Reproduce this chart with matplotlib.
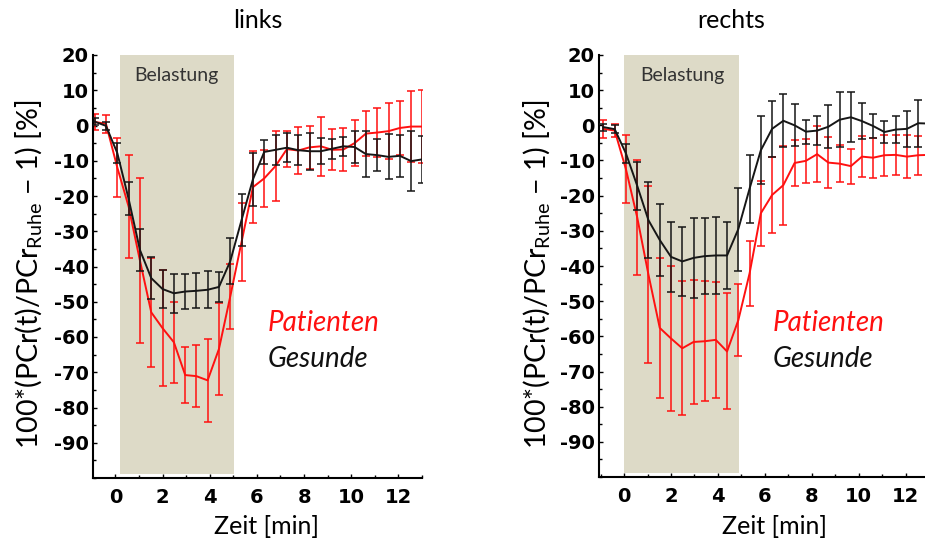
import matplotlib
matplotlib.use("Agg")
import matplotlib.pyplot as plt
from matplotlib.ticker import MultipleLocator

# Zeitpunkte der Spektren [min]
zeit = [-0.88, -0.40, 0.08, 0.56, 1.04, 1.52, 2.00, 2.48, 2.96, 3.43,
        3.91, 4.39, 4.87, 5.35, 5.83, 6.31, 6.79, 7.27, 7.75, 8.23,
        8.71, 9.19, 9.67, 10.14, 10.62, 11.10, 11.58, 12.06, 12.54, 13.02]

# links
links_pat = [1.0, 0.5, -11.9, -23.0, -38.3, -53.0, -57.5, -61.5, -70.8, -71.1,
             -72.3, -63.4, -48.5, -33.0, -17.5, -15.0, -11.5, -6.7, -7.1, -6.2,
             -5.9, -6.9, -6.8, -5.0, -2.3, -2.0, -1.6, -0.7, -0.3, -0.3]
links_pat_err = [2.4, 2.6, 8.3, 14.6, 23.3, 15.5, 16.5, 11.5, 8.0, 8.7,
                 11.8, 13.0, 9.2, 11.0, 10.2, 8.0, 9.8, 5.1, 6.7, 6.1,
                 8.4, 5.8, 6.0, 6.5, 6.3, 6.9, 7.9, 7.7, 10.1, 10.3]
links_ges = [1.1, -0.1, -7.8, -20.8, -35.3, -43.3, -46.4, -47.6, -47.1, -46.9,
             -46.6, -45.8, -38.5, -26.8, -15.3, -7.5, -6.9, -6.3, -7.0, -7.3,
             -7.3, -6.6, -5.9, -6.1, -8.1, -8.4, -8.9, -8.6, -10.1, -9.6]
links_ges_err = [1.0, 1.2, 2.9, 4.7, 5.9, 6.0, 5.4, 5.6, 4.9, 5.0,
                 5.2, 4.3, 6.6, 7.5, 7.4, 3.3, 4.2, 4.1, 4.3, 5.2,
                 3.7, 2.8, 2.7, 4.4, 6.5, 4.5, 6.4, 5.9, 8.6, 6.6]

# rechts
rechts_pat = [-1.0, -1.5, -12.5, -26.2, -42.5, -57.6, -60.6, -63.4, -61.6, -61.4,
              -61.0, -64.3, -55.4, -42.1, -25.0, -19.8, -17.0, -10.7, -10.1, -8.2,
              -10.6, -10.9, -11.6, -8.9, -9.2, -8.5, -8.4, -8.9, -8.5, -8.4]
rechts_pat_err = [2.5, 1.9, 9.7, 16.4, 25.2, 20.0, 20.6, 19.0, 17.6, 17.1,
                  16.5, 16.5, 10.3, 9.3, 9.3, 10.8, 11.2, 6.5, 6.2, 8.0,
                  7.2, 5.2, 5.0, 5.8, 5.7, 5.8, 5.6, 6.2, 5.6, 5.6]
rechts_ges = [-0.5, -1.1, -8.0, -17.2, -27.0, -32.6, -37.4, -38.7, -37.7, -37.2,
              -37.0, -37.0, -29.5, -18.0, -7.1, -1.0, 1.3, 0.0, -1.8, -1.5,
              -0.4, 1.6, 2.3, 1.2, -0.2, -1.9, -1.2, -1.0, 0.6, 0.5]
rechts_ges_err = [1.0, 1.1, 2.6, 6.9, 10.8, 10.2, 10.0, 9.8, 11.3, 10.9,
                  11.0, 9.6, 11.8, 9.7, 9.7, 8.0, 7.5, 6.0, 3.4, 4.1,
                  6.1, 7.8, 7.1, 5.2, 3.4, 3.0, 3.9, 5.1, 6.7, 5.5]

plt.rcParams['font.family'] = ['Lato', 'DejaVu Sans']
plt.rcParams['axes.unicode_minus'] = False
plt.rcParams['mathtext.fontset'] = 'custom'
plt.rcParams['mathtext.rm'] = 'Lato'

fig = plt.figure(figsize=(9.25, 5.44), dpi=100)
W, H = 925.0, 544.0


def panel(left, right, top, bottom, xlim, span, pat, pat_err, ges, ges_err):
    ax = fig.add_axes([left / W, 1 - bottom / H, (right - left) / W, (bottom - top) / H])
    ax.axvspan(span[0], span[1], ymin=0.01, ymax=1, color='#dddac7', lw=0, zorder=0)
    ax.errorbar(zeit, pat, yerr=pat_err, color='#ff1010', lw=1.4,
                elinewidth=1.1, capsize=3, capthick=1.1, zorder=2)
    ax.errorbar(zeit, ges, yerr=ges_err, color='#161616', lw=1.4,
                elinewidth=1.1, capsize=3, capthick=1.1, zorder=3)
    ax.set_xlim(xlim)
    ax.set_ylim(-100, 20)
    ax.xaxis.set_major_locator(MultipleLocator(2))
    ax.xaxis.set_minor_locator(MultipleLocator(1))
    ax.yaxis.set_minor_locator(MultipleLocator(5))
    ax.set_yticks(range(-90, 21, 10))
    for s in ('top', 'right'):
        ax.spines[s].set_visible(False)
    for s in ('left', 'bottom'):
        ax.spines[s].set_linewidth(1.5)
    ax.tick_params(which='both', direction='in', width=1.0)
    ax.tick_params(which='major', length=3)
    ax.tick_params(which='minor', length=2)
    ax.tick_params(axis='x', pad=7)
    ax.tick_params(axis='y', pad=3)
    for lab in ax.get_xticklabels() + ax.get_yticklabels():
        lab.set_fontfamily('DejaVu Sans')
        lab.set_fontweight('bold')
        lab.set_fontsize(14)
    return ax


ax1 = panel(93, 422, 55, 478, (-0.95, 13.0), (0.18, 5.02),
            links_pat, links_pat_err, links_ges, links_ges_err)
ax2 = panel(599, 929, 55, 477, (-1.07, 13.0), (0.0, 4.88),
            rechts_pat, rechts_pat_err, rechts_ges, rechts_ges_err)

ylab = '100*(PCr(t)/PCr$_{\\mathrm{Ruhe}}$ \u2212 1) [%]'
for x0, ttl, bx, zx, px in ((258, 'links', 176, 266, 268),
                            (731, 'rechts', 682, 775, 773)):
    fig.text(x0 / W, 1 - 20 / H, ttl, ha='center', va='center', fontsize=18)
    fig.text(bx / W, 1 - 76 / H, 'Belastung', ha='center', va='center',
             fontsize=14, color='#333333')
    fig.text(zx / W, 1 - 527 / H, 'Zeit [min]', ha='center', va='center', fontsize=18)
    fig.text(px / W, 1 - 331 / H, 'Patienten', ha='left', va='baseline',
             fontsize=20, style='italic', color='#ff1010')
    fig.text(px / W, 1 - 367 / H, 'Gesunde', ha='left', va='baseline',
             fontsize=20, style='italic', color='#111111')

for yx in (29, 537):
    fig.text(yx / W, 1 - 274 / H, ylab, rotation=90, ha='center', va='center', fontsize=20.5)

fig.savefig('out.png', dpi=100)
